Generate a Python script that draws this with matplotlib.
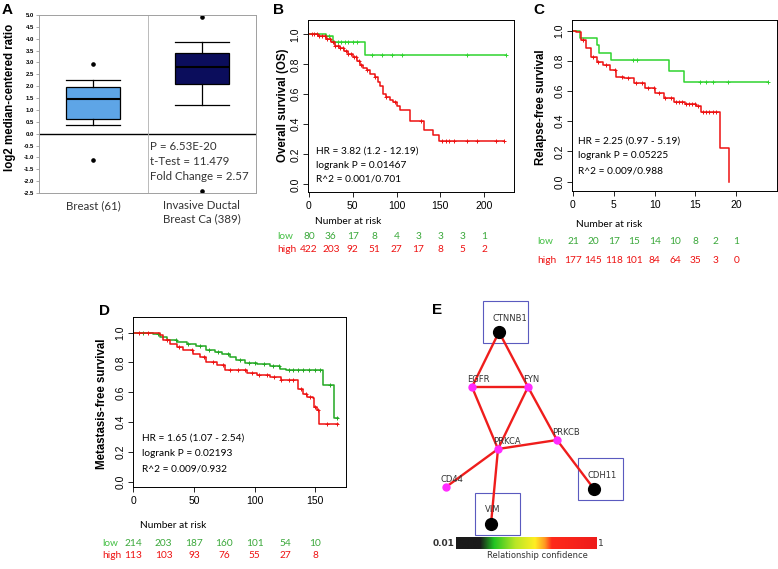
import numpy as np
import matplotlib
matplotlib.use("Agg")
import matplotlib.pyplot as plt
from matplotlib.colors import LinearSegmentedColormap
from matplotlib.patches import Rectangle
import matplotlib.transforms as mtransforms

W, H = 778, 569

# ---------------- data ----------------
# A: expression boxplot (Oncomine style)
a_groups = ["Breast (61)", "Invasive Ductal\nBreast Ca (389)"]
a_whislo = [0.37, 1.20]
a_q1 = [0.62, 2.10]
a_med = [1.45, 2.83]
a_q3 = [1.97, 3.40]
a_whishi = [2.25, 3.87]
a_fliers = [[2.93, -1.12], [4.92, -2.42]]
a_stats = ["P = 6.53E-20", "t-Test = 11.479", "Fold Change = 2.57"]

# B: overall survival
b_low_t = [0, 19, 28, 64, 225]
b_low_s = [1.0, 0.99, 0.951, 0.862, 0.862]
b_low_cens = [20, 23, 29, 33, 37, 41, 45, 50, 55, 72, 83, 95, 106, 180, 225]
b_high_t = [0, 10, 20, 25, 30, 35, 40, 45, 50, 55, 58, 62, 66, 70, 75, 79, 81, 84, 88,
            92, 96, 100, 104, 115, 131, 142, 148, 223]
b_high_s = [1.0, 0.989, 0.969, 0.951, 0.924, 0.907, 0.889, 0.867, 0.851, 0.822, 0.796,
            0.778, 0.762, 0.733, 0.716, 0.684, 0.653, 0.60, 0.584, 0.56, 0.547, 0.524,
            0.496, 0.422, 0.362, 0.329, 0.289, 0.289]
b_high_cens = [3, 6, 9, 12, 15, 18, 21, 24, 27, 30, 33, 36, 39, 42, 45, 48, 51, 54, 57,
               60, 66, 75, 88, 98, 128, 152, 156, 160, 165, 180, 192, 213, 223]
b_risk_t = [0, 25, 50, 75, 100, 125, 150, 175, 200]
b_risk_low = [80, 36, 17, 8, 4, 3, 3, 3, 1]
b_risk_high = [422, 203, 92, 51, 27, 17, 8, 5, 2]
b_stats = ["HR = 3.82 (1.2 - 12.19)", "logrank P = 0.01467", "R^2 = 0.001/0.701"]

# C: relapse-free survival
c_low_t = [0, 0.8, 2.9, 3.2, 4.6, 11.8, 13.6, 23.9]
c_low_s = [1.0, 0.949, 0.905, 0.854, 0.806, 0.733, 0.662, 0.662]
c_low_cens = [7.3, 7.8, 15.6, 16.3, 17.1, 19.0, 23.9]
c_high_t = [0, 0.4, 1.0, 1.6, 2.2, 2.9, 3.7, 4.5, 5.3, 6.3, 7.5, 8.8, 10.0, 11.2, 12.4,
            13.7, 15.1, 15.7, 18.0, 19.1, 19.15]
c_high_s = [1.0, 0.989, 0.938, 0.883, 0.828, 0.795, 0.773, 0.740, 0.695, 0.684, 0.651,
            0.618, 0.585, 0.552, 0.525, 0.512, 0.503, 0.464, 0.225, 0.0, 0.0]
c_high_cens = [1.2, 2.5, 3.1, 4.0, 5.2, 6.0, 6.8, 7.7, 8.5, 9.2, 9.9, 10.6, 11.3, 12.0,
               12.6, 13.0, 13.4, 13.8, 14.2, 14.6, 15.0, 15.3, 15.9, 16.3, 16.7, 17.1, 17.5]
c_risk_t = [0, 2.5, 5, 7.5, 10, 12.5, 15, 17.5, 20]
c_risk_low = [21, 20, 17, 15, 14, 10, 8, 2, 1]
c_risk_high = [177, 145, 118, 101, 84, 64, 35, 3, 0]
c_stats = ["HR = 2.25 (0.97 - 5.19)", "logrank P = 0.05225", "R^2 = 0.009/0.988"]

# D: metastasis-free survival
d_low_t = [0, 11, 16.5, 22, 27.5, 35.7, 44, 52, 60, 67, 72.8, 79.7, 85, 92, 101.6, 112.6,
           121, 126, 156.6, 165, 169]
d_low_s = [1.0, 1.0, 0.989, 0.971, 0.949, 0.9375, 0.926, 0.908, 0.886, 0.871, 0.859,
           0.837, 0.815, 0.799, 0.788, 0.775, 0.759, 0.748, 0.647, 0.431, 0.431]
d_low_cens = [8, 20, 35, 45, 55, 62, 70, 78, 88, 95, 100, 108, 115, 120, 128, 132, 136,
              140, 145, 150, 154, 162, 168]
d_high_t = [0, 13.7, 22, 24.7, 30, 35.7, 41, 49.5, 55, 60, 68.7, 75.5, 85, 93.4, 101.6,
            112.6, 122, 136, 140, 142.9, 148, 149, 151.6, 153, 169]
d_high_s = [1.0, 1.0, 0.982, 0.949, 0.926, 0.904, 0.882, 0.859, 0.837, 0.804, 0.781,
            0.752, 0.748, 0.730, 0.714, 0.703, 0.681, 0.625, 0.592, 0.569, 0.565, 0.502,
            0.480, 0.391, 0.391]
d_high_cens = [5, 12, 28, 38, 48, 58, 66, 74, 80, 86, 92, 98, 104, 110, 116, 122, 128,
               132, 138, 142, 146, 150, 152, 160, 168]
d_risk_t = [0, 25, 50, 75, 100, 125, 150]
d_risk_low = [214, 203, 187, 160, 101, 54, 10]
d_risk_high = [113, 103, 93, 76, 55, 27, 8]
d_stats = ["HR = 1.65 (1.07 - 2.54)", "logrank P = 0.02193", "R^2 = 0.009/0.932"]

# E: interaction network (layout in figure pixels)
e_nodes = ["CTNNB1", "EGFR", "FYN", "PRKCB", "PRKCA", "CD44", "CDH11", "VIM"]
e_x = [499, 472, 528, 557, 498, 446, 594, 491]
e_y = [332, 387, 387, 440, 449, 487, 489, 524]
e_seed = [True, False, False, False, False, False, True, True]
e_edges = [("CTNNB1", "EGFR"), ("CTNNB1", "FYN"), ("EGFR", "FYN"), ("EGFR", "PRKCA"),
           ("FYN", "PRKCA"), ("FYN", "PRKCB"), ("PRKCA", "PRKCB"), ("PRKCA", "CD44"),
           ("PRKCA", "VIM"), ("PRKCB", "CDH11")]
e_conf = [0.98] * len(e_edges)

# ---------------- style ----------------
plt.rcParams['font.family'] = ['Liberation Sans', 'DejaVu Sans']
TXT = 'Lato'
GREEN = '#2fd32f'
GREEN_D = '#22a822'
RED = '#ee1111'
RISK_GREEN = '#3aa83a'

fig = plt.figure(figsize=(W / 100, H / 100), dpi=100)


def px_axes(l, t, r, b):
    return fig.add_axes([l / W, 1 - b / H, (r - l) / W, (b - t) / H])


def ftext(x, y, s, **kw):
    fig.text(x / W, 1 - y / H, s, **kw)


def step_at(t, s, c):
    i = np.searchsorted(t, c, side='right') - 1
    return np.asarray(s)[np.clip(i, 0, len(s) - 1)]


def km_panel(box, xlim, ylim, xticks, curves, stats, stat_x, stat_y, risk, risk_y, lab_x, num_xy):
    ax = px_axes(*box)
    for t, s, cens, col in curves:
        ax.step(t, s, where='post', color=col, lw=1.1)
        ax.plot(cens, step_at(t, s, cens), ls='none', marker='+', ms=3.5, mew=0.7, color=col)
    ax.set_xlim(*xlim)
    ax.set_ylim(*ylim)
    ax.set_xticks(xticks)
    ax.set_xticklabels([f"{v:g}" for v in xticks])
    ax.set_yticks(np.arange(0, 1.01, 0.2))
    ax.set_yticklabels([f"{v:.1f}" for v in np.arange(0, 1.01, 0.2)], rotation=90, va='center')
    ax.tick_params(length=3.5, width=0.6, labelsize=7.5, pad=2)
    ax.tick_params(axis='x', pad=3)
    for sp in ax.spines.values():
        sp.set_linewidth(0.7)
    tr = mtransforms.blended_transform_factory(ax.transData, fig.transFigure)
    for line, y in zip(stats, stat_y):
        ftext(stat_x, y, line, family=TXT, fontsize=7.3, va='center')
    ftext(num_xy[0], num_xy[1], "Number at risk", family=TXT, fontsize=7.3, va='center')
    rt, low, high = risk
    ftext(lab_x, risk_y[0], "low", family=TXT, fontsize=7.3, va='center', color='#44c044')
    ftext(lab_x, risk_y[1], "high", family=TXT, fontsize=7.3, va='center', color=RED)
    for t, n_lo, n_hi in zip(rt, low, high):
        ax.text(t, 1 - risk_y[0] / H, str(n_lo), transform=tr, ha='center', va='center',
                family=TXT, fontsize=7.3, color=RISK_GREEN)
        ax.text(t, 1 - risk_y[1] / H, str(n_hi), transform=tr, ha='center', va='center',
                family=TXT, fontsize=7.3, color=RED)
    return ax


# ---------------- panel A ----------------
axA = px_axes(39, 15, 256, 193)
bstats = [dict(med=m, q1=q1, q3=q3, whislo=lo, whishi=hi, fliers=f)
          for m, q1, q3, lo, hi, f in zip(a_med, a_q1, a_q3, a_whislo, a_whishi, a_fliers)]
bp = axA.bxp(bstats, positions=[0.5, 1.5], widths=0.5, capwidths=0.5, patch_artist=True,
             boxprops=dict(edgecolor='black', lw=0.9),
             medianprops=dict(color='black', lw=1.5),
             whiskerprops=dict(lw=0.9), capprops=dict(lw=0.9),
             flierprops=dict(marker='o', ms=2.3, mfc='black', mec='black'))
for patch, c in zip(bp['boxes'], ['#5ea5e6', '#0b0d5c']):
    patch.set_facecolor(c)
axA.axhline(0, color='black', lw=1)
axA.axvline(1, color='#b0b0b0', lw=0.6)
axA.set_xlim(0, 2)
axA.set_ylim(-2.5, 5.0)
axA.set_xticks([])
yt = np.arange(-2.5, 5.01, 0.5)
axA.set_yticks(yt)
axA.set_yticklabels([f"{v:.1f}" for v in yt], fontsize=4.3, fontweight='bold')
axA.tick_params(axis='y', length=2, width=0.5, pad=1.5, color='#888888')
for sp in axA.spines.values():
    sp.set_color('#a0a0a0')
    sp.set_linewidth(0.7)
trA = mtransforms.blended_transform_factory(axA.transData, fig.transFigure)
for pos, lab in zip([0.5, 1.5], a_groups):
    axA.text(pos, 1 - 200 / H, lab, transform=trA, ha='center', va='top', family=TXT,
             fontsize=8.3, color='#333333', linespacing=1.25)
for line, y in zip(a_stats, [147, 162, 176]):
    ftext(150, y, line, family=TXT, fontsize=8.3, va='center', color='#333333')
ftext(10, 97, "log2 median-centered ratio", rotation=90, ha='center', va='center',
      fontsize=8.3, fontweight='bold')

# ---------------- panels B, C, D ----------------
km_panel((308, 20, 514, 192), (-1, 234), (-0.051, 1.095), [0, 50, 100, 150, 200],
         [(b_low_t, b_low_s, b_low_cens, GREEN), (b_high_t, b_high_s, b_high_cens, RED)],
         b_stats, 316, [151.5, 165, 178.5], (b_risk_t, b_risk_low, b_risk_high),
         (236.5, 249), 277, (315, 221))
ftext(283, 105, "Overall survival (OS)", rotation=90, ha='center', va='center',
      fontsize=8.3, fontweight='bold')

km_panel((572, 20, 777, 191), (-0.12, 25.0), (-0.062, 1.071), [0, 5, 10, 15, 20],
         [(c_low_t, c_low_s, c_low_cens, GREEN), (c_high_t, c_high_s, c_high_cens, RED)],
         c_stats, 578, [141, 156, 171.5], (c_risk_t, c_risk_low, c_risk_high),
         (242, 260.5), 537, (576, 225))
ftext(541, 107, "Relapse-free survival", rotation=90, ha='center', va='center',
      fontsize=8.3, fontweight='bold')

km_panel((133, 317, 346, 487), (-0.25, 175.3), (-0.033, 1.104), [0, 50, 100, 150],
         [(d_low_t, d_low_s, d_low_cens, GREEN_D), (d_high_t, d_high_s, d_high_cens, RED)],
         d_stats, 142, [438.5, 453.5, 469], (d_risk_t, d_risk_low, d_risk_high),
         (543, 556), 102, (140, 525))
ftext(102, 404, "Metastasis-free survival", rotation=90, ha='center', va='center',
      fontsize=8.3, fontweight='bold')

# ---------------- panel E ----------------
ov = fig.add_axes([0, 0, 1, 1])
ov.axis('off')
conf_cmap = LinearSegmentedColormap.from_list(
    'conf', [(0.0, '#1a1a1a'), (0.17, '#1a1a1a'), (0.27, '#22c422'), (0.42, '#b8e626'),
             (0.56, '#ffee22'), (0.63, '#ff9a22'), (0.68, '#ff2a1a'), (1.0, '#ee1c1c')])
idx = {n: i for i, n in enumerate(e_nodes)}
for (a, b), c in zip(e_edges, e_conf):
    ov.plot([e_x[idx[a]], e_x[idx[b]]], [e_y[idx[a]], e_y[idx[b]]],
            color=conf_cmap(c), lw=1.7, zorder=2, solid_capstyle='round')
for name, x, y, seed in zip(e_nodes, e_x, e_y, e_seed):
    if seed:
        ov.plot(x, y, 'o', ms=8.5, color='black', zorder=3)
        ov.add_patch(Rectangle((x - 16, y - 31), 45, 42, fill=False, ec='#5a5abf', lw=0.8,
                               zorder=1))
        ov.text(x - 6, y - 14, name, fontsize=6, family='DejaVu Sans', color='#333333',
                va='center', ha='left', zorder=4)
    else:
        ov.plot(x, y, 'o', ms=5, color='#ff2bff', zorder=3)
        ov.text(x - 5, y - 8, name, fontsize=6, family='DejaVu Sans', color='#333333',
                va='center', ha='left', zorder=4)
grad = np.linspace(0, 1, 256)[None, :]
ov.imshow(grad, cmap=conf_cmap, aspect='auto', extent=(456, 597, 549, 537), zorder=1)
ov.set_xlim(0, W)
ov.set_ylim(H, 0)
ov.text(455, 543, "0.01", ha='right', va='center', fontsize=6.5, fontweight='bold',
        family='DejaVu Sans', color='#333333')
ov.text(598, 543, "1", ha='left', va='center', fontsize=6.5, family='DejaVu Sans',
        color='#333333')
ov.text(537, 556, "Relationship confidence", ha='center', va='center', fontsize=6,
        family='DejaVu Sans', color='#333333')

# panel letters
for lab, x, y in [("A", 2, 10), ("B", 273, 10), ("C", 533, 10), ("D", 99, 311), ("E", 432, 310)]:
    ftext(x, y, lab, fontsize=11, fontweight='bold', va='center', ha='left')

fig.savefig("out.png", dpi=100)
